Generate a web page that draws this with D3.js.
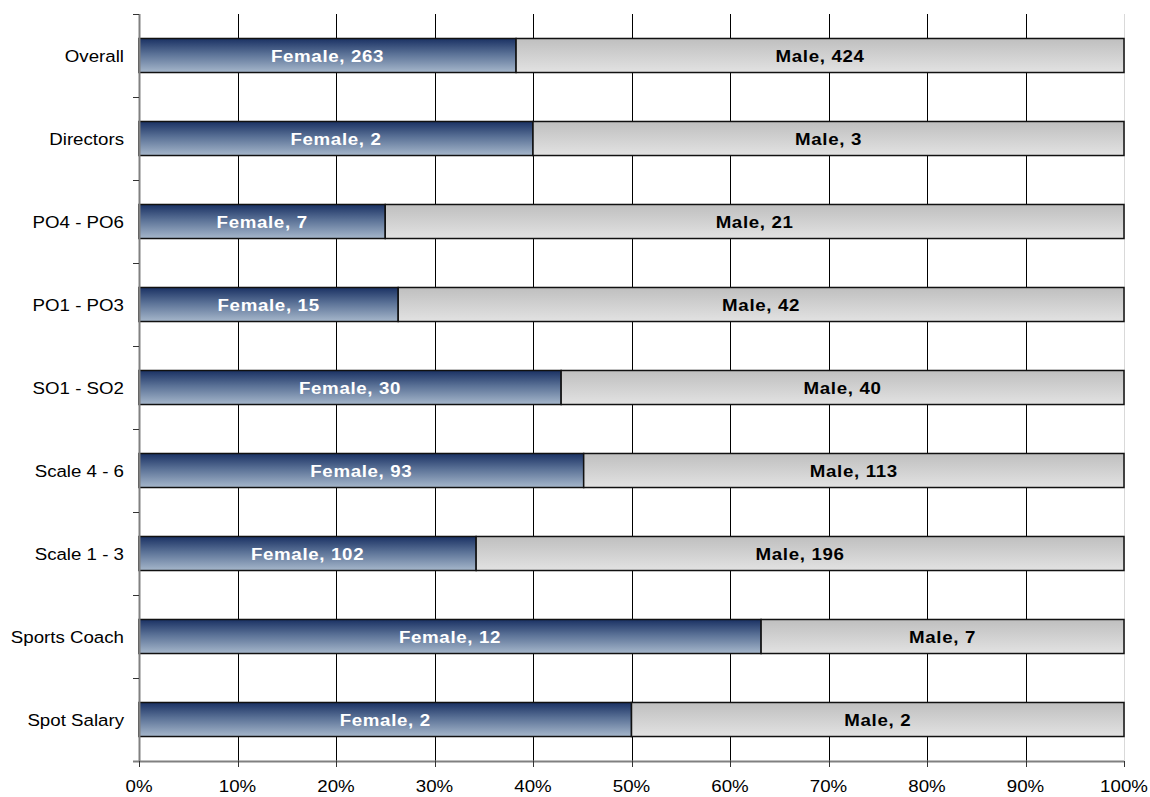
<!DOCTYPE html>
<html><head><meta charset="utf-8">
<script src="https://cdn.jsdelivr.net/npm/d3@7"></script>
<style>body{margin:0;background:#fff}svg{display:block}text{font-family:Arial,"Liberation Sans",sans-serif}</style>
</head><body>
<script>
const categories = ["Overall","Directors","PO4 - PO6","PO1 - PO3","SO1 - SO2","Scale 4 - 6","Scale 1 - 3","Sports Coach","Spot Salary"];
const female = [263,2,7,15,30,93,102,12,2];
const male = [424,3,21,42,40,113,196,7,2];
const tickLabels = ["0%","10%","20%","30%","40%","50%","60%","70%","80%","90%","100%"];

(function(){
const W=1150,H=797;
const pL=139,pR=1124,pT=14,pB=761;
const SX=1.1;
const svg=d3.select("body").append("svg").attr("width",W).attr("height",H);
const defs=svg.append("defs");
const gf=defs.append("linearGradient").attr("id","gf").attr("x1",0).attr("y1",0).attr("x2",0).attr("y2",1);
gf.append("stop").attr("offset","0%").attr("stop-color","#1a3163");
gf.append("stop").attr("offset","45%").attr("stop-color","#5a7196");
gf.append("stop").attr("offset","100%").attr("stop-color","#a6b7cb");
const gm=defs.append("linearGradient").attr("id","gm").attr("x1",0).attr("y1",0).attr("x2",0).attr("y2",1);
gm.append("stop").attr("offset","0%").attr("stop-color","#bfbfbf");
gm.append("stop").attr("offset","100%").attr("stop-color","#e2e2e2");

const data=categories.map((c,i)=>({cat:c,Female:female[i],Male:male[i]}));
const stack=d3.stack().keys(["Female","Male"]).offset(d3.stackOffsetExpand)(data);

const x=d3.scaleLinear().domain([0,1]).range([pL,pR]);
const y=d3.scaleBand().domain(categories).range([pT,pB]).paddingInner(0.59).paddingOuter(0.295);
const yb=d3.scaleBand().domain(categories).range([pT,pB]);

const gt=d3.range(1,11).map(i=>i/10);
svg.append("g").selectAll("line").data(gt).join("line")
 .attr("x1",d=>Math.round(x(d))+0.5).attr("x2",d=>Math.round(x(d))+0.5)
 .attr("y1",pT).attr("y2",pB)
 .attr("stroke",d=>d===1?"#d9d9d9":"#000").attr("stroke-width",1);

const fills={Female:"url(#gf)",Male:"url(#gm)"};
stack.forEach(s=>{
  svg.append("g").selectAll("rect").data(s).join("rect")
   .attr("x",d=>x(d[0])).attr("width",d=>x(d[1])-x(d[0]))
   .attr("y",d=>y(d.data.cat)).attr("height",y.bandwidth())
   .attr("fill",fills[s.key]).attr("stroke","#111").attr("stroke-width",1.5);
});
stack.forEach(s=>{
  svg.append("g").selectAll("text").data(s).join("text")
   .attr("transform",d=>`translate(${(x(d[0])+x(d[1]))/2},${y(d.data.cat)+y.bandwidth()/2+6}) scale(${SX},1)`)
   .attr("text-anchor","middle").attr("font-size",17).attr("font-weight","bold")
   .attr("letter-spacing","0.6px")
   .attr("fill",s.key==="Female"?"#fff":"#000")
   .text(d=>s.key+", "+d.data[s.key]);
});

const axisColor="#808080";
svg.append("line").attr("x1",pL+0.5).attr("x2",pL+0.5).attr("y1",pT).attr("y2",pB).attr("stroke",axisColor).attr("stroke-width",2);
const yt=categories.map(c=>yb(c)).concat([pB]);
svg.append("g").selectAll("line").data(yt).join("line")
 .attr("x1",pL-6).attr("x2",pL).attr("y1",d=>Math.round(d)+0.5).attr("y2",d=>Math.round(d)+0.5)
 .attr("stroke","#333").attr("stroke-width",1);
svg.append("g").selectAll("text").data(categories).join("text")
 .attr("transform",c=>`translate(124,${yb(c)+yb.bandwidth()/2+6}) scale(${SX},1)`)
 .attr("text-anchor","end").attr("font-size",17).attr("fill","#000").text(c=>c);

svg.append("line").attr("x1",pL-6).attr("x2",pR).attr("y1",pB+0.5).attr("y2",pB+0.5).attr("stroke",axisColor).attr("stroke-width",2);
const xt=d3.range(0,11).map(i=>i/10);
svg.append("g").selectAll("line").data(xt).join("line")
 .attr("x1",d=>Math.round(x(d))+0.5).attr("x2",d=>Math.round(x(d))+0.5)
 .attr("y1",pB).attr("y2",pB+6).attr("stroke","#333");
svg.append("g").selectAll("text").data(xt).join("text")
 .attr("transform",d=>`translate(${x(d)},${pB+31}) scale(${SX},1)`)
 .attr("text-anchor","middle").attr("font-size",17).attr("fill","#000")
 .text((d,i)=>tickLabels[i]);
})();
</script>
</body></html>
